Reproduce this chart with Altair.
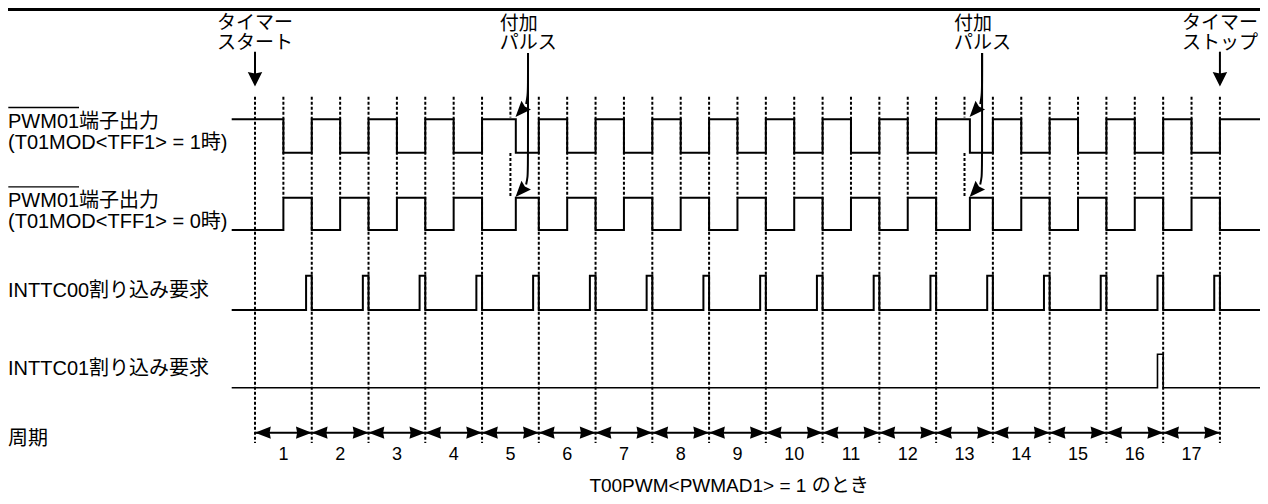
import altair as alt
import pandas as pd

# ------------------------------------------------------------------
# Values (time unit = one period)
# ------------------------------------------------------------------
period_numbers = ["1", "2", "3", "4", "5", "6", "7", "8", "9", "10",
                  "11", "12", "13", "14", "15", "16", "17"]
period_boundaries = [0, 1, 2, 3, 4, 5, 6, 7, 8, 9, 10, 11, 12, 13, 14, 15, 16, 17]
half_period_marks = [0.5, 1.5, 2.5, 3.5, 4.5, 5.5, 6.5, 7.5, 8.5, 9.5, 10.5,
                     11.5, 12.5, 13.5, 14.5, 15.5, 16.5]
added_pulse_marks = [4.5, 12.5]          # half-period marks where the added pulse occurs
added_pulse_edges = [4.595, 12.595]      # delayed edge caused by the added pulse

# PWM01 output (TFF1 = 1): edge times and level before/after each edge
pwm_edges = [0.5, 1.0, 1.5, 2.0, 2.5, 3.0, 3.5, 4.0, 4.595, 5.0, 5.5, 6.0,
             6.5, 7.0, 7.5, 8.0, 8.5, 9.0, 9.5, 10.0, 10.5, 11.0, 11.5, 12.0,
             12.595, 13.0, 13.5, 14.0, 14.5, 15.0, 15.5, 16.0, 16.5, 17.0]
pwm_tff1_levels = [1, 0, 1, 0, 1, 0, 1, 0, 1, 0, 1, 0, 1, 0, 1, 0, 1, 0,
                   1, 0, 1, 0, 1, 0, 1, 0, 1, 0, 1, 0, 1, 0, 1, 0, 1]

# interrupt request pulses (end time of each pulse)
inttc00_pulse_ends = [1, 2, 3, 4, 5, 6, 7, 8, 9, 10, 11, 12, 13, 14, 15, 16, 17]
inttc01_pulse_ends = [16]
interrupt_pulse_width = 0.1

left_label_texts = ["PWM01端子出力", "(T01MOD<TFF1> = 1時)",
                    "PWM01端子出力", "(T01MOD<TFF1> = 0時)",
                    "INTTC00割り込み要求", "INTTC01割り込み要求", "周期"]
start_texts = ["タイマー", "スタート"]
stop_texts = ["タイマー", "ストップ"]
added_texts = ["付加", "パルス"]
footnote_text = "T00PWM<PWMAD1> = 1 のとき"

# ------------------------------------------------------------------
# Layout (reference-pixel based vertical positions, time-based x)
# ------------------------------------------------------------------
FONT = "Liberation Sans, Noto Sans CJK JP"
W, H = 1252, 488
PX0, PX_PER_T = 255.0, 56.76


def t_at(px):
    return (px - PX0) / PX_PER_T


X_DOMAIN = [t_at(8.0), t_at(1260.0)]
xs = alt.Scale(domain=X_DOMAIN, nice=False, zero=False)
ys = alt.Scale(domain=[8.0, 496.0], reverse=True, nice=False, zero=False)


def X(f="t"):
    return alt.X(f"{f}:Q", scale=xs, axis=None)


def Y(f="y"):
    return alt.Y(f"{f}:Q", scale=ys, axis=None)


LANE_Y = {"pwm1": (119.3, 152.7), "pwm0": (197.7, 230.0),
          "int00": (275.7, 310.0), "int01": (354.3, 387.7)}
T_LEFT = t_at(231.7)
T_RIGHT = X_DOMAIN[1]
PERIOD_Y = 432.7

# ---------------- signal traces ----------------
sig = []


def add_trace(lane, times, levels, width):
    hi, lo = LANE_Y[lane]
    for i, (t, l) in enumerate(zip(times, levels)):
        sig.append({"lane": lane, "i": i, "t": t, "y": lo - l * (lo - hi), "w": width})


times = [T_LEFT] + pwm_edges + [T_RIGHT]
lv1 = pwm_tff1_levels + [pwm_tff1_levels[-1]]
add_trace("pwm1", times, lv1, 2.0)
add_trace("pwm0", times, [1 - l for l in lv1], 2.0)


def pulse_train(ends):
    tt, lv = [T_LEFT], [0]
    for e in ends:
        tt += [e - interrupt_pulse_width, e]
        lv += [1, 0]
    tt.append(T_RIGHT)
    lv.append(0)
    return tt, lv


add_trace("int00", *pulse_train(inttc00_pulse_ends), 2.0)
add_trace("int01", *pulse_train(inttc01_pulse_ends), 1.6)
sig_df = pd.DataFrame(sig)

signals = alt.Chart(sig_df).mark_line(interpolate="step-after", color="black").encode(
    x=X(), y=Y(), detail="lane:N", order="i:Q",
    strokeWidth=alt.StrokeWidth("w:Q", scale=None))

# ---------------- dashed guide lines ----------------
dash = []
for b in period_boundaries:
    dash.append({"t": b, "y": 96.7, "y2": 443.0})
for m in half_period_marks:
    if m in added_pulse_marks:
        dash.append({"t": m, "y": 96.7, "y2": 117.5})
        dash.append({"t": m, "y": 153.0, "y2": 197.7})
    else:
        dash.append({"t": m, "y": 96.7, "y2": 197.7})
dashed = alt.Chart(pd.DataFrame(dash)).mark_rule(
    color="black", strokeDash=[3, 2], strokeWidth=2).encode(
    x=X(), y=Y(), y2=alt.Y2("y2:Q"))

# ---------------- top border ----------------
border = alt.Chart(pd.DataFrame([{"t": X_DOMAIN[0], "t2": X_DOMAIN[1], "y": 9.5}])).mark_rule(
    color="black", strokeWidth=3).encode(x=X(), x2=alt.X2("t2:Q"), y=Y())

# ---------------- period arrows ----------------
RIGHT_HEAD = "M0,0L-2,-0.78L-1.85,0L-2,0.78Z"
LEFT_HEAD = "M0,0L2,-0.78L1.85,0L2,0.78Z"
DOWN_HEAD = "M0,0L-1,-2L0,-1.8L1,-2Z"
BIG_HEAD = "M0,0L-2,-0.8L-1.75,0L-2,0.8Z"

shaft_df = pd.DataFrame([{"t": b, "t2": b + 1, "y": PERIOD_Y} for b in period_boundaries[:-1]])
shafts = alt.Chart(shaft_df).mark_rule(color="black", strokeWidth=2).encode(
    x=X(), x2=alt.X2("t2:Q"), y=Y())
rh_df = pd.DataFrame([{"t": b, "y": PERIOD_Y} for b in period_boundaries[1:]])
lh_df = pd.DataFrame([{"t": b, "y": PERIOD_Y} for b in period_boundaries[:-1]])
heads_r = alt.Chart(rh_df).mark_point(shape=RIGHT_HEAD, filled=True, size=250,
                                      color="black", opacity=1).encode(x=X(), y=Y())
heads_l = alt.Chart(lh_df).mark_point(shape=LEFT_HEAD, filled=True, size=250,
                                      color="black", opacity=1).encode(x=X(), y=Y())
num_df = pd.DataFrame([{"t": b + 0.5, "y": 459.5, "text": s}
                       for b, s in zip(period_boundaries[:-1], period_numbers)])
numbers = alt.Chart(num_df).mark_text(font=FONT, fontSize=18, align="center",
                                      baseline="alphabetic", color="black").encode(
    x=X(), y=Y(), text="text:N")

# ---------------- timer start / stop arrows ----------------
timer_t = [period_boundaries[0], period_boundaries[-1]]
tl_df = pd.DataFrame([{"t": t, "y": 51.7, "y2": 78.0} for t in timer_t])
timer_lines = alt.Chart(tl_df).mark_rule(color="black", strokeWidth=2).encode(
    x=X(), y=Y(), y2=alt.Y2("y2:Q"))
th_df = pd.DataFrame([{"t": t, "y": 86.5} for t in timer_t])
timer_heads = alt.Chart(th_df).mark_point(shape=DOWN_HEAD, filled=True, size=210,
                                          color="black", opacity=1).encode(x=X(), y=Y())

# ---------------- added pulse arrows ----------------
upper_pts = [(12.2, 53.0), (12.2, 86.0), (11.9, 96.0), (10.3, 104.0)]
lower_pts = [(12.2, 53.0), (12.2, 168.0), (11.9, 177.0), (10.3, 184.5)]
curve_rows, tip_rows = [], []
for k, e in enumerate(added_pulse_edges):
    for name, pts in (("u", upper_pts), ("l", lower_pts)):
        for i, (dx, y) in enumerate(pts):
            curve_rows.append({"g": f"{k}{name}", "i": i, "t": e + dx / PX_PER_T, "y": y})
    tip_rows.append({"t": e - 0.3 / PX_PER_T, "y": 117.0})
    tip_rows.append({"t": e - 0.3 / PX_PER_T, "y": 197.0})
curves = alt.Chart(pd.DataFrame(curve_rows)).mark_line(
    interpolate="basis", color="black", strokeWidth=2).encode(
    x=X(), y=Y(), detail="g:N", order="i:Q")
tips = alt.Chart(pd.DataFrame(tip_rows)).mark_point(
    shape=BIG_HEAD, filled=True, size=256, angle=132, color="black", opacity=1).encode(x=X(), y=Y())

# ---------------- texts ----------------
top_rows = []
for t, texts in ((timer_t[0], start_texts), (timer_t[1], stop_texts)):
    top_rows.append({"t": t, "y": 28.7, "text": texts[0]})
    top_rows.append({"t": t, "y": 48.7, "text": texts[1]})
top_text = alt.Chart(pd.DataFrame(top_rows)).mark_text(
    font=FONT, fontSize=19, align="center", baseline="alphabetic", color="black").encode(
    x=X(), y=Y(), text="text:N")

add_rows = []
for e in added_pulse_edges:
    add_rows.append({"t": e - 16.0 / PX_PER_T, "y": 30.0, "text": added_texts[0]})
    add_rows.append({"t": e - 16.0 / PX_PER_T, "y": 48.7, "text": added_texts[1]})
add_text = alt.Chart(pd.DataFrame(add_rows)).mark_text(
    font=FONT, fontSize=19, align="left", baseline="alphabetic", color="black").encode(
    x=X(), y=Y(), text="text:N")

label_y = [127.5, 148.5, 206.9, 227.9, 297.0, 375.0, 445.0]
lab_df = pd.DataFrame([{"t": X_DOMAIN[0], "y": y, "text": s}
                       for s, y in zip(left_label_texts, label_y)])
labels = alt.Chart(lab_df).mark_text(
    font=FONT, fontSize=20, align="left", baseline="alphabetic", color="black").encode(
    x=X(), y=Y(), text="text:N")

ov_df = pd.DataFrame([{"t": t_at(8.3), "t2": t_at(79.0), "y": y} for y in (107.5, 186.9)])
overlines = alt.Chart(ov_df).mark_rule(color="black", strokeWidth=1.3).encode(
    x=X(), x2=alt.X2("t2:Q"), y=Y())

foot = alt.Chart(pd.DataFrame([{"t": t_at(729.0), "y": 492.0, "text": footnote_text}])).mark_text(
    font=FONT, fontSize=19, align="center", baseline="alphabetic", color="black").encode(
    x=X(), y=Y(), text="text:N")

chart = alt.layer(
    border, dashed, signals, shafts, heads_r, heads_l, numbers,
    timer_lines, timer_heads, curves, tips, top_text, add_text, labels, overlines, foot
).properties(
    width=W, height=H, autosize=alt.AutoSizeParams(type="none"), padding=0,
    background="white"
).configure_view(stroke=None)

chart.save("out.html", embed_options={"renderer": "svg", "actions": False})
